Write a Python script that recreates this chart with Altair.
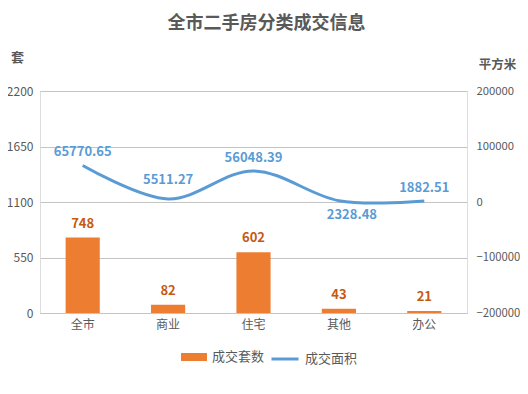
import altair as alt
import pandas as pd

categories = ["全市", "商业", "住宅", "其他", "办公"]
units = [748, 82, 602, 43, 21]
areas = [65770.65, 5511.27, 56048.39, 2328.48, 1882.51]
area_labels = ["65770.65", "5511.27", "56048.39", "2328.48", "1882.51"]
series_names = ["成交套数", "成交面积"]
left_ticks = [0, 550, 1100, 1650, 2200]
right_ticks = [-200000, -100000, 0, 100000, 200000]
title_text = "全市二手房分类成交信息"

df = pd.DataFrame({
    "cat": categories,
    "units": units,
    "area": areas,
    "area_label": area_labels,
    "s1": series_names[0],
    "s2": series_names[1],
})

FONT = "Noto Sans CJK SC"
GREY = "#595959"
ORANGE = "#ED7D31"
BLUE = "#5B9BD5"
GRID = "#C4C4C4"

x = alt.X(
    "cat:N", sort=categories,
    scale=alt.Scale(paddingInner=0.6, paddingOuter=0.3),
    axis=alt.Axis(title=None, labelAngle=0, domain=True, domainColor=GRID,
                  ticks=False, labelPadding=6, labelFontSize=12, labelColor=GREY,
                  labelFont=FONT, grid=False),
)

yl = alt.Y(
    "units:Q",
    scale=alt.Scale(domain=[0, 2200], nice=False),
    axis=alt.Axis(values=left_ticks, format="d", title="套", titleAngle=0,
                  titleX=-23, titleY=-34, titleAlign="center", titleBaseline="middle",
                  titleFont=FONT, titleFontSize=13, titleFontWeight="bold", titleColor=GREY,
                  grid=True, gridColor=GRID, domain=False, ticks=False,
                  labelPadding=7, labelFontSize=12, labelColor=GREY, labelFont=FONT),
)

yr = alt.Y(
    "area:Q",
    scale=alt.Scale(domain=[-200000, 200000], nice=False),
    axis=alt.Axis(orient="right", values=right_ticks, format="d", title="平方米", titleAngle=0,
                  titleX=30, titleY=-27, titleAlign="center", titleBaseline="middle",
                  titleFont=FONT, titleFontSize=12.5, titleFontWeight="bold", titleColor=GREY,
                  grid=False, domain=False, ticks=False,
                  labelPadding=9, labelFontSize=11.3, labelColor=GREY, labelFont=FONT),
)

base = alt.Chart(df)

bars = base.mark_bar().encode(
    x=x, y=yl,
    fill=alt.Fill("s1:N", scale=alt.Scale(domain=[series_names[0]], range=[ORANGE]),
                  legend=alt.Legend(title=None, orient="none", legendX=141, legendY=253,
                                    symbolType="M-1,-0.31H1V0.31H-1Z", symbolSize=676,
                                    symbolStrokeWidth=0, labelFont=FONT, labelFontSize=13,
                                    labelColor=GREY, labelOffset=5)),
)
bar_labels = base.mark_text(dy=-14, font=FONT, fontSize=13, fontWeight="bold",
                            color="#C65911").encode(x=x, y=yl, text="units:Q")

line = base.mark_line(strokeWidth=3, interpolate="cardinal").encode(
    x=x, y=yr,
    stroke=alt.Stroke("s2:N", scale=alt.Scale(domain=[series_names[1]], range=[BLUE]),
                      legend=alt.Legend(title=None, orient="none", legendX=230, legendY=253,
                                        symbolType="stroke", symbolSize=729,
                                        symbolStrokeWidth=3, labelFont=FONT, labelFontSize=13,
                                        labelColor=GREY, labelOffset=5)),
)
line_labels_above = base.transform_filter(
    (alt.datum.cat != "其他") & (alt.datum.cat != "商业")
).mark_text(
    dy=-13, font=FONT, fontSize=13, fontWeight="bold", color=BLUE
).encode(x=x, y=yr, text="area_label:N")
line_labels_high = base.transform_filter(alt.datum.cat == "商业").mark_text(
    dy=-19, font=FONT, fontSize=13, fontWeight="bold", color=BLUE
).encode(x=x, y=yr, text="area_label:N")
line_labels_below = base.transform_filter(alt.datum.cat == "其他").mark_text(
    dy=14, dx=13, font=FONT, fontSize=13, fontWeight="bold", color=BLUE
).encode(x=x, y=yr, text="area_label:N")

left = alt.layer(bars, bar_labels)
right = alt.layer(line, line_labels_above, line_labels_high, line_labels_below)

chart = alt.layer(left, right).resolve_scale(y="independent").properties(
    width=427, height=222,
    autosize=alt.AutoSizeParams(type="none"),
    padding={"left": 32, "top": 83, "right": 53, "bottom": 73},
    title=alt.Title(title_text, font=FONT, fontSize=18, fontWeight="bold", color=GREY,
                    anchor="middle", offset=18, dx=13),
).configure_view(stroke=None).configure(background="white")

chart.save("out.html", embed_options={"renderer": "svg", "actions": False})
